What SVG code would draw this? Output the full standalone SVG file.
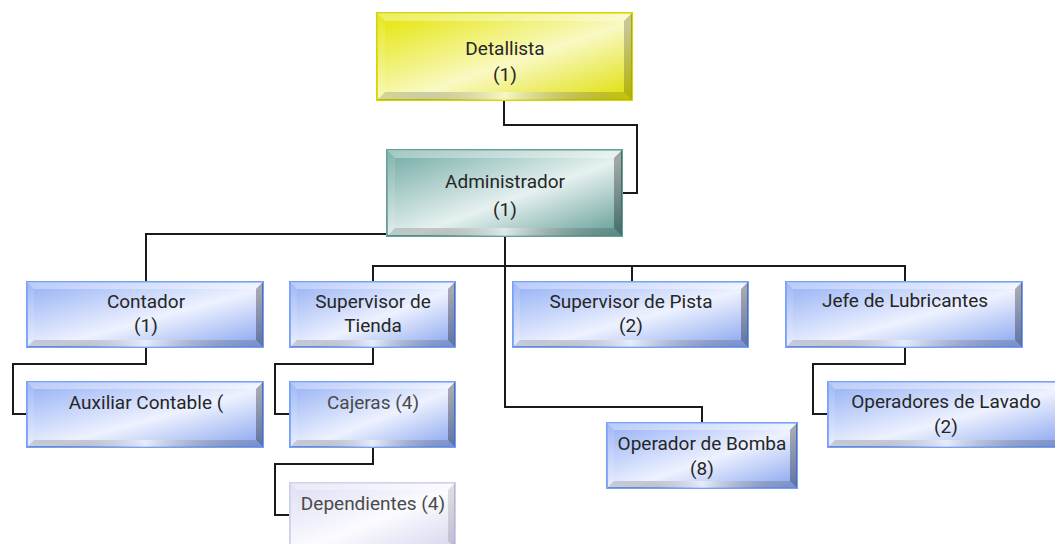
<svg xmlns="http://www.w3.org/2000/svg" width="1055" height="544" viewBox="0 0 1055 544">
<defs>
<linearGradient id="gBlue" x1="0" y1="0" x2="1" y2="1">
<stop offset="0" stop-color="#92aef4"/>
<stop offset="0.55" stop-color="#eef2ff"/>
<stop offset="1" stop-color="#86a3ee"/>
</linearGradient>
<linearGradient id="gYellow" x1="0" y1="0" x2="1" y2="1">
<stop offset="0" stop-color="#e4e400"/>
<stop offset="0.55" stop-color="#f9f9c4"/>
<stop offset="1" stop-color="#dede00"/>
</linearGradient>
<linearGradient id="gTeal" x1="0" y1="0" x2="1" y2="1">
<stop offset="0" stop-color="#6fa9a2"/>
<stop offset="0.55" stop-color="#e6f1f0"/>
<stop offset="1" stop-color="#5f9b94"/>
</linearGradient>
<linearGradient id="gLav" x1="0" y1="0" x2="1" y2="1">
<stop offset="0" stop-color="#dcdcf4"/>
<stop offset="0.55" stop-color="#fbfbff"/>
<stop offset="1" stop-color="#d6d6ee"/>
</linearGradient>
<linearGradient id="gBot" x1="0" y1="0" x2="1" y2="0">
<stop offset="0" stop-color="#000" stop-opacity="0.12"/>
<stop offset="0.5" stop-color="#fff" stop-opacity="0.55"/>
<stop offset="1" stop-color="#000" stop-opacity="0.12"/>
</linearGradient>
</defs>
<style>
.c{fill:none;stroke:#1a1a1a;stroke-width:2}
.t{font-family:Roboto,"Liberation Sans",sans-serif;font-size:19px;fill:#262626;text-anchor:middle}
.tl{fill:#4a4a4a}
.blue{fill:url(#gBlue);stroke:#78a0f6;stroke-width:2}
.yel{fill:url(#gYellow);stroke:#d6d600;stroke-width:2}
.teal{fill:url(#gTeal);stroke:#65a09a;stroke-width:2}
.lav{fill:url(#gLav);stroke:#d0d0ee;stroke-width:2}
.bt{fill:#fff;fill-opacity:0.35}
.bl{fill:#fff;fill-opacity:0.12}
.br{fill:#000;fill-opacity:0.3}
.bb{fill:url(#gBot)}
</style>
<rect width="1055" height="544" fill="#fff"/>
<g id="connectors">
<path class="c" d="M504,100 V125 H637 V193 H622"/>
<path class="c" d="M387,234 H146 V282"/>
<path class="c" d="M505,236 V407 H702 V423"/>
<path class="c" d="M373,282 V266 H905 V282"/>
<path class="c" d="M632,266 V282"/>
<path class="c" d="M146,347 V364 H13 V414 H27"/>
<path class="c" d="M373,347 V364 H275 V414 H290"/>
<path class="c" d="M373,447 V464 H275 V515 H290"/>
<path class="c" d="M905,347 V364 H813 V414 H828"/>
</g>
<g id="detallista">
<rect class="yel" x="377" y="13" width="255" height="87"/>
<polygon class="bt" points="377,13 632,13 624,21 385,21"/>
<polygon class="bl" points="377,13 385,21 385,92 377,100"/>
<polygon class="br" points="632,13 632,100 624,92 624,21" style="fill-opacity:0.2"/>
<polygon class="bb" points="377,100 632,100 624,92 385,92"/>
<text class="t" x="505" y="55">Detallista</text>
<text class="t" x="505" y="81">(1)</text>
</g>
<g id="administrador">
<rect class="teal" x="387" y="150" width="235" height="86"/>
<polygon class="bt" points="387,150 622,150 614,158 395,158"/>
<polygon class="bl" points="387,150 395,158 395,228 387,236"/>
<polygon class="br" points="622,150 622,236 614,228 614,158"/>
<polygon class="bb" points="387,236 622,236 614,228 395,228"/>
<text class="t" x="505" y="188">Administrador</text>
<text class="t" x="505" y="216">(1)</text>
</g>
<g id="contador">
<rect class="blue" x="27" y="282" width="236" height="65"/>
<polygon class="bt" points="27,282 263,282 256,289 34,289"/>
<polygon class="bl" points="27,282 34,289 34,340 27,347"/>
<polygon class="br" points="263,282 263,347 256,340 256,289"/>
<polygon class="bb" points="27,347 263,347 256,340 34,340"/>
<text class="t" x="146" y="308">Contador</text>
<text class="t" x="146" y="332">(1)</text>
</g>
<g id="auxiliar">
<rect class="blue" x="27" y="382" width="236" height="65"/>
<polygon class="bt" points="27,382 263,382 256,389 34,389"/>
<polygon class="bl" points="27,382 34,389 34,440 27,447"/>
<polygon class="br" points="263,382 263,447 256,440 256,389"/>
<polygon class="bb" points="27,447 263,447 256,440 34,440"/>
<text class="t" x="146" y="409">Auxiliar Contable (</text>
</g>
<g id="supervisor-tienda">
<rect class="blue" x="290" y="282" width="165" height="65"/>
<polygon class="bt" points="290,282 455,282 448,289 297,289"/>
<polygon class="bl" points="290,282 297,289 297,340 290,347"/>
<polygon class="br" points="455,282 455,347 448,340 448,289"/>
<polygon class="bb" points="290,347 455,347 448,340 297,340"/>
<text class="t" x="373" y="308">Supervisor de</text>
<text class="t" x="373" y="332">Tienda</text>
</g>
<g id="cajeras">
<rect class="blue" x="290" y="382" width="165" height="65"/>
<polygon class="bt" points="290,382 455,382 448,389 297,389"/>
<polygon class="bl" points="290,382 297,389 297,440 290,447"/>
<polygon class="br" points="455,382 455,447 448,440 448,389"/>
<polygon class="bb" points="290,447 455,447 448,440 297,440"/>
<text class="t tl" x="373" y="409">Cajeras (4)</text>
</g>
<g id="dependientes">
<rect class="lav" x="290" y="483" width="165" height="65"/>
<polygon class="bt" points="290,483 455,483 448,490 297,490"/>
<polygon class="bl" points="290,483 297,490 297,541 290,548"/>
<polygon class="br" points="455,483 455,548 448,541 448,490" style="fill-opacity:0.12"/>
<text class="t tl" x="373" y="510">Dependientes (4)</text>
</g>
<g id="supervisor-pista">
<rect class="blue" x="513" y="282" width="235" height="65"/>
<polygon class="bt" points="513,282 748,282 741,289 520,289"/>
<polygon class="bl" points="513,282 520,289 520,340 513,347"/>
<polygon class="br" points="748,282 748,347 741,340 741,289"/>
<polygon class="bb" points="513,347 748,347 741,340 520,340"/>
<text class="t" x="631" y="308">Supervisor de Pista</text>
<text class="t" x="631" y="332">(2)</text>
</g>
<g id="operador-bomba">
<rect class="blue" x="607" y="423" width="190" height="65"/>
<polygon class="bt" points="607,423 797,423 790,430 614,430"/>
<polygon class="bl" points="607,423 614,430 614,481 607,488"/>
<polygon class="br" points="797,423 797,488 790,481 790,430"/>
<polygon class="bb" points="607,488 797,488 790,481 614,481"/>
<text class="t" x="702" y="450">Operador de Bomba</text>
<text class="t" x="702" y="475">(8)</text>
</g>
<g id="jefe-lubricantes">
<rect class="blue" x="786" y="282" width="236" height="65"/>
<polygon class="bt" points="786,282 1022,282 1015,289 793,289"/>
<polygon class="bl" points="786,282 793,289 793,340 786,347"/>
<polygon class="br" points="1022,282 1022,347 1015,340 1015,289"/>
<polygon class="bb" points="786,347 1022,347 1015,340 793,340"/>
<text class="t" x="905" y="307">Jefe de Lubricantes</text>
</g>
<g id="operadores-lavado">
<rect class="blue" x="828" y="382" width="236" height="65"/>
<polygon class="bt" points="828,382 1064,382 1057,389 835,389"/>
<polygon class="bl" points="828,382 835,389 835,440 828,447"/>
<polygon class="br" points="1064,382 1064,447 1057,440 1057,389"/>
<polygon class="bb" points="828,447 1064,447 1057,440 835,440"/>
<text class="t" x="946" y="408">Operadores de Lavado</text>
<text class="t" x="946" y="433">(2)</text>
</g>
</svg>
